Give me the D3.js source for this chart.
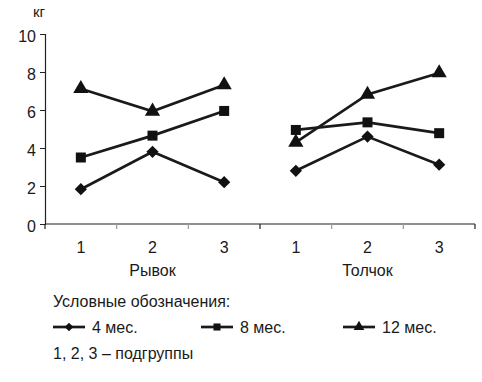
<!DOCTYPE html>
<html>
<head>
<meta charset="utf-8">
<script src="https://cdn.jsdelivr.net/npm/d3@7"></script>
<style>
body { margin: 0; background: #fff; }
text { font-family: "Liberation Sans", Arial, sans-serif; fill: #1a1a1a; }
</style>
</head>
<body>
<div id="chart"></div>
<script>
// data
var groups = ["Рывок", "Толчок"];
var subgroups = ["1", "2", "3"];
var seriesNames = ["4 мес.", "8 мес.", "12 мес."];
var m4 = [1.83, 3.8, 2.2, 2.8, 4.6, 3.12];
var m8 = [3.5, 4.65, 5.95, 4.95, 5.35, 4.78];
var m12 = [7.12, 5.93, 7.32, 4.3, 6.82, 7.95];
var yTicks = [0, 2, 4, 6, 8, 10];

var w = 482, h = 382;
var padL = 45, padR = 475, padT = 34, padB = 224;

var svg = d3.select("#chart").append("svg")
  .attr("width", w).attr("height", h);

// square diamond (rotated square), wider than d3's built-in one
var squareDiamond = {
  draw: function(ctx, size) {
    var r = Math.sqrt(size / 2);
    ctx.moveTo(0, -r); ctx.lineTo(r, 0); ctx.lineTo(0, r); ctx.lineTo(-r, 0); ctx.closePath();
  }
};

// six categories: group x subgroup
var cats = [];
groups.forEach(function(g) { subgroups.forEach(function(s) { cats.push(g + "|" + s); }); });

var x = d3.scaleBand().domain(cats).range([padL, padR]);
var y = d3.scaleLinear().domain([0, 10]).range([padB, padT]);

// y axis
var yAxis = svg.append("g").attr("transform", "translate(" + padL + ",0)")
  .call(d3.axisLeft(y).tickValues(yTicks).tickSize(5).tickPadding(4));
yAxis.select(".domain").attr("stroke", "#222").attr("stroke-width", 1.2);
yAxis.selectAll(".tick line").attr("stroke", "#222");
yAxis.selectAll(".tick text").attr("font-size", "16px").attr("fill", "#1a1a1a")
  .attr("dy", "0.45em")
  .style("font-family", "Liberation Sans, Arial, sans-serif");

// x axis line
svg.append("line").attr("x1", padL).attr("x2", padR).attr("y1", padB).attr("y2", padB)
  .attr("stroke", "#222").attr("stroke-width", 1.2);

// x ticks at category boundaries
var bounds = cats.map(function(c) { return x(c); }).concat([padR]);
svg.selectAll(".xtick").data(bounds).enter().append("line")
  .attr("x1", function(d) { return d; }).attr("x2", function(d) { return d; })
  .attr("y1", padB).attr("y2", padB + 5)
  .attr("stroke", function(d, i) { return i % 3 === 0 ? "#222" : "#999"; })
  .attr("stroke-width", 1.2);

// category labels
svg.selectAll(".cat").data(cats).enter().append("text")
  .attr("x", function(d) { return x(d) + x.bandwidth() / 2; })
  .attr("y", 253)
  .attr("text-anchor", "middle").attr("font-size", "16px")
  .text(function(d) { return d.split("|")[1]; });

svg.selectAll(".grp").data(groups).enter().append("text")
  .attr("x", function(d) { return x(d + "|2") + x.bandwidth() / 2; })
  .attr("y", 276)
  .attr("text-anchor", "middle").attr("font-size", "16px")
  .text(function(d) { return d; });

svg.append("text").attr("x", 33).attr("y", 17).attr("font-size", "15px").text("кг");

// series
var series = [
  { name: seriesNames[0], values: m4, sym: squareDiamond, size: 75 },
  { name: seriesNames[1], values: m8, sym: d3.symbolSquare, size: 100 },
  { name: seriesNames[2], values: m12, sym: d3.symbolTriangle, size: 100 }
];

var line = d3.line()
  .x(function(d) { return x(d.cat) + x.bandwidth() / 2; })
  .y(function(d) { return y(d.v); });

series.forEach(function(s) {
  groups.forEach(function(g, gi) {
    var pts = subgroups.map(function(sg, si) {
      return { cat: g + "|" + sg, v: s.values[gi * 3 + si] };
    });
    svg.append("path").datum(pts)
      .attr("d", line).attr("fill", "none")
      .attr("stroke", "#1a1a1a").attr("stroke-width", 2.7);
    svg.selectAll(null).data(pts).enter().append("path")
      .attr("d", d3.symbol().type(s.sym).size(s.size))
      .attr("transform", function(d) {
        return "translate(" + (x(d.cat) + x.bandwidth() / 2) + "," + y(d.v) + ")";
      })
      .attr("fill", "#111");
  });
});

// legend
svg.append("text").attr("x", 53).attr("y", 307).attr("font-size", "16px")
  .text("Условные обозначения:");

var legX = [53, 201, 343];
series.forEach(function(s, i) {
  var g = svg.append("g").attr("transform", "translate(" + legX[i] + ",327)");
  g.append("line").attr("x1", 0).attr("x2", 32).attr("y1", 0).attr("y2", 0)
    .attr("stroke", "#1a1a1a").attr("stroke-width", 2.7);
  g.append("path").attr("d", d3.symbol().type(s.sym).size(s.size * 0.5)())
    .attr("transform", "translate(16,0)").attr("fill", "#111");
  g.append("text").attr("x", 39).attr("y", 6).attr("font-size", "16px").text(s.name);
});

svg.append("text").attr("x", 53).attr("y", 359).attr("font-size", "16px")
  .text("1, 2, 3 – подгруппы");
</script>
</body>
</html>
